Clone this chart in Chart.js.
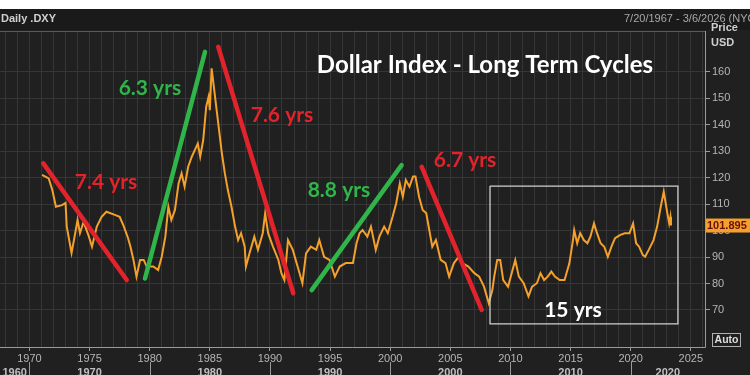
<!DOCTYPE html>
<html>
<head>
<meta charset="utf-8">
<script src="https://cdn.jsdelivr.net/npm/chart.js@4.4.1/dist/chart.umd.min.js"></script>
<style>
  html, body { margin: 0; padding: 0; background: #1f1f1f; }
  canvas { display: block; }
</style>
</head>
<body>
<canvas id="dxy" width="750" height="375"></canvas>
<script>
// Dollar Index (.DXY) - long term cycles

// price series (decimal year / index level)
const years = [1971.05,1971.6,1971.9,1972.2,1972.7,1973.0,1973.1,1973.5,1973.7,1974.0,1974.2,1974.5,1974.9,
  1975.2,1975.6,1976.0,1976.4,1977.1,1977.5,1977.8,1978.2,1978.4,1978.65,1978.9,1979.2,1979.5,1979.75,
  1980.3,1980.7,1981.0,1981.3,1981.55,1981.8,1982.1,1982.4,1982.65,1982.9,1983.2,1983.5,1983.75,1984.0,
  1984.2,1984.45,1984.7,1984.9,1985.0,1985.15,1985.2,1985.4,1985.7,1986.0,1986.25,1986.5,1986.8,1987.1,
  1987.35,1987.6,1987.9,1988.0,1988.3,1988.7,1989.0,1989.4,1989.6,1989.85,1990.25,1990.7,1990.95,1991.2,
  1991.5,1991.9,1992.3,1992.7,1993.0,1993.4,1993.85,1994.1,1994.5,1994.95,1995.4,1995.8,1996.3,1996.9,
  1997.2,1997.45,1997.7,1998.1,1998.4,1998.8,1999.1,1999.5,1999.8,2000.2,2000.5,2000.8,2001.05,2001.3,
  2001.6,2001.9,2002.1,2002.4,2002.7,2003.0,2003.25,2003.5,2003.8,2004.2,2004.6,2004.9,2005.3,2005.7,
  2006.0,2006.5,2007.0,2007.4,2007.8,2008.2,2008.5,2008.65,2008.9,2009.15,2009.4,2009.8,2010.4,2010.7,
  2011.1,2011.5,2011.8,2012.2,2012.5,2012.8,2013.1,2013.4,2013.7,2014.1,2014.5,2014.9,2015.2,2015.3,
  2015.55,2015.8,2016.1,2016.4,2016.65,2016.95,2017.2,2017.5,2017.8,2018.1,2018.4,2018.7,2019.1,2019.5,
  2019.9,2020.2,2020.45,2020.7,2021.0,2021.2,2021.5,2021.9,2022.2,2022.5,2022.75,2023.05,2023.2,2023.3,2023.35];
const dxy = [121,119.7,115.3,109,109.6,110.4,101.5,91.5,96.4,104,99,103.3,98.3,
  93.9,101.5,105.2,107.1,105.9,105.2,102.1,97.1,93.9,88.9,82.6,88.9,88.9,86.4,
  86.4,85.1,90.1,97.7,109,104,107.8,117.8,121.6,116.6,124.1,127.9,130.4,132.9,
  127.9,134.2,146.8,150.6,145.5,161.3,159.4,151.8,140.5,129.2,121.6,115.3,109,101.5,
  96.4,99,93.9,86.4,91.4,97.7,92.7,99,106.5,99,93.9,88.9,83.9,81.3,
  96.4,92.7,86.4,80.1,91.4,93.9,92.7,96.4,90.1,88.9,82.6,86.4,87.7,87.7,
  95.2,99,100.2,97.7,101.5,92.7,97.7,101.5,99,105.2,110.3,117.8,112.8,119.1,
  116.6,120.4,120.4,112.8,107.8,106.5,100.2,93.9,96.4,88.9,87.7,82.6,87.7,90.1,
  87.7,86.4,83.9,82.6,78.8,72.5,77.6,82.6,88.9,88.9,81.3,78.8,88.9,82.6,
  80.1,75.1,78.8,80.1,83.9,81.3,82.6,84.5,82.6,81.3,81.3,87.6,96.4,100.2,
  95.2,99,96.4,95.2,97.7,102.7,99,95.2,93.9,90.1,93.9,97.1,98.3,99,
  99,102.7,95.2,93.9,90.8,90.1,92.7,96.4,101.5,109,114.7,106.5,102.7,105.2,101.9];
const lastPrice = 101.895;

// axes
const xMin = 1967.55, xMax = 2026.18;
const yMin = 56, yMax = 175.4;
const priceTicks = [70,80,90,100,110,120,130,140,150,160];
const yearLabels = [1970,1975,1980,1985,1990,1995,2000,2005,2010,2015,2020,2025];
const decades = [1960,1970,1980,1990,2000,2010,2020];

// cycle trend lines drawn on the chart: [year, level] start and end
const cycleNames = ['7.4 yrs','6.3 yrs','7.6 yrs','8.8 yrs','6.7 yrs'];
const cycleFrom = [[1971.15,125.4],[1979.61,81.9],[1985.7,169.4],[1993.47,77.5],[2002.62,124.1]];
const cycleTo   = [[1978.09,81.3],[1984.6,167.5],[1991.94,76.3],[2000.95,124.7],[2007.61,70]];
const cycleTextAt = [[1976.37,118.3],[1980.02,153.8],[1991.0,143.6],[1995.74,115.3],[2006.22,126.6]];

// the recent range box
const rangeBox = { x0: 2008.3, x1: 2023.93, y0: 64.7, y1: 116.8, label: '15 yrs', labelAt: [2015.2, 70] };
const title = { text: 'Dollar Index - Long Term Cycles', at: [2007.88, 162.5] };

const RED = '#e3232c', GREEN = '#2fb54a', ORANGE = '#f4a12c';
const FONT = "'Liberation Sans Narrow', 'Liberation Sans', sans-serif";

// years for the vertical grid, one per year
const gridYears = [];
for (let y = 1968; y <= 2026; y++) gridYears.push(y);

const priceData = years.map((y, i) => ({ x: y, y: dxy[i] }));

const cycleSets = cycleNames.map((name, i) => {
    const up = cycleTo[i][1] > cycleFrom[i][1];
    return {
        label: name,
        data: [{ x: cycleFrom[i][0], y: cycleFrom[i][1] }, { x: cycleTo[i][0], y: cycleTo[i][1] }],
        borderColor: up ? GREEN : RED,
        borderWidth: 4.5,
        borderCapStyle: 'round',
        pointRadius: 0,
        order: 0
    };
});

const boxSet = {
    label: 'range',
    data: [
        { x: rangeBox.x0, y: rangeBox.y1 }, { x: rangeBox.x1, y: rangeBox.y1 },
        { x: rangeBox.x1, y: rangeBox.y0 }, { x: rangeBox.x0, y: rangeBox.y0 },
        { x: rangeBox.x0, y: rangeBox.y1 }
    ],
    borderColor: '#cfcfcf',
    borderWidth: 1.3,
    pointRadius: 0,
    order: 1
};

// header, frame, labels and other terminal chrome
const chrome = {
    id: 'chrome',
    beforeDraw(chart) {
        const { ctx, width, height } = chart;
        ctx.save();
        ctx.fillStyle = '#202020';
        ctx.fillRect(0, 0, width, height);
        ctx.fillStyle = '#ffffff';
        ctx.fillRect(0, 0, width, 9);
        ctx.fillStyle = '#1a1a1a';
        ctx.fillRect(0, 9, width, 21);
        ctx.restore();
    },
    afterDraw(chart) {
        const { ctx, chartArea: a, scales: { x, y } } = chart;
        ctx.save();

        // header
        ctx.textBaseline = 'middle';
        ctx.fillStyle = '#d0d0d0';
        ctx.font = 'bold 11px ' + FONT;
        ctx.textAlign = 'left';
        ctx.fillText('Daily .DXY', 1, 19);
        ctx.fillStyle = '#a8a8a8';
        ctx.font = '11px ' + FONT;
        ctx.fillText('7/20/1967 - 3/6/2026 (NYC', 624, 19);

        // frame
        ctx.strokeStyle = '#5a5a5a';
        ctx.lineWidth = 1;
        ctx.beginPath();
        ctx.moveTo(0, a.top + 0.5); ctx.lineTo(a.right + 0.5, a.top + 0.5);
        ctx.stroke();
        ctx.strokeStyle = '#9a9a9a';
        ctx.beginPath();
        ctx.moveTo(a.right + 0.5, a.top); ctx.lineTo(a.right + 0.5, a.bottom + 0.5);
        ctx.lineTo(0, a.bottom + 0.5);
        ctx.stroke();

        // right axis title
        ctx.fillStyle = '#cfcfcf';
        ctx.font = 'bold 11px ' + FONT;
        ctx.fillText('Price', 711, 28);
        ctx.fillText('USD', 711, 43);

        // last price tag
        const py = y.getPixelForValue(lastPrice);
        ctx.fillStyle = ORANGE;
        ctx.fillRect(a.right + 1, py - 7, 50, 14);
        ctx.fillStyle = '#6a0d0d';
        ctx.font = 'bold 11px ' + FONT;
        ctx.fillText(lastPrice.toFixed(3), a.right + 2, py + 0.5);

        // Auto button
        ctx.strokeStyle = '#b0b0b0';
        ctx.strokeRect(712.5, 333.5, 28, 13);
        ctx.fillStyle = '#dddddd';
        ctx.font = 'bold 10.5px ' + FONT;
        ctx.textAlign = 'center';
        ctx.fillText('Auto', 726.5, 340.5);

        // decade row under the year ticks
        ctx.font = 'bold 11px ' + FONT;
        ctx.fillStyle = '#c0c0c0';
        ctx.strokeStyle = '#9a9a9a';
        decades.forEach(d => {
            const l = Math.max(x.getPixelForValue(d), 0);
            const r = Math.min(x.getPixelForValue(d + 10), a.right);
            const sep = x.getPixelForValue(d + 10);
            if (sep < a.right) {
                ctx.beginPath();
                ctx.moveTo(Math.round(sep) + 0.5, 362); ctx.lineTo(Math.round(sep) + 0.5, 375);
                ctx.stroke();
            }
            ctx.fillText(String(d), (l + r) / 2, 373);
        });

        // cycle labels
        ctx.font = 'bold 21px Lato, sans-serif';
        cycleNames.forEach((name, i) => {
            ctx.fillStyle = cycleTo[i][1] > cycleFrom[i][1] ? GREEN : RED;
            ctx.fillText(name, x.getPixelForValue(cycleTextAt[i][0]), y.getPixelForValue(cycleTextAt[i][1]));
        });
        ctx.fillStyle = '#ffffff';
        ctx.fillText(rangeBox.label, x.getPixelForValue(rangeBox.labelAt[0]), y.getPixelForValue(rangeBox.labelAt[1]));
        ctx.font = 'bold 24px Lato, sans-serif';
        ctx.fillText(title.text, x.getPixelForValue(title.at[0]), y.getPixelForValue(title.at[1]));

        ctx.restore();
    }
};

new Chart(document.getElementById('dxy'), {
    type: 'line',
    data: {
        datasets: [
            ...cycleSets,
            boxSet,
            {
                label: '.DXY',
                data: priceData,
                borderColor: ORANGE,
                borderWidth: 2,
                pointRadius: 0,
                tension: 0,
                order: 2
            }
        ]
    },
    options: {
        responsive: false,
        animation: false,
        parsing: false,
        layout: { padding: { top: 31, left: 0, right: 0, bottom: 0 } },
        plugins: { legend: { display: false }, tooltip: { enabled: false } },
        scales: {
            x: {
                type: 'linear',
                min: xMin,
                max: xMax,
                afterBuildTicks: s => { s.ticks = gridYears.map(v => ({ value: v })); },
                afterFit: s => { s.height = 28; },
                border: { display: false },
                grid: {
                    color: '#363636',
                    tickLength: 4,
                    tickColor: c => (c.tick && yearLabels.includes(c.tick.value)) ? '#9a9a9a' : 'rgba(0,0,0,0)'
                },
                ticks: {
                    autoSkip: false,
                    maxRotation: 0,
                    padding: 1,
                    color: '#b5b5b5',
                    font: { family: FONT, size: 11 },
                    callback: v => yearLabels.includes(v) ? String(v) : ''
                }
            },
            y: {
                position: 'right',
                min: yMin,
                max: yMax,
                afterBuildTicks: s => { s.ticks = priceTicks.map(v => ({ value: v })); },
                afterFit: s => { s.width = 45; },
                border: { display: false },
                grid: { color: '#363636', tickLength: 5, tickColor: '#9a9a9a' },
                ticks: {
                    padding: 2,
                    color: '#b5b5b5',
                    font: { family: FONT, size: 11 },
                    callback: v => String(v)
                }
            }
        }
    },
    plugins: [chrome]
});
</script>
</body>
</html>
